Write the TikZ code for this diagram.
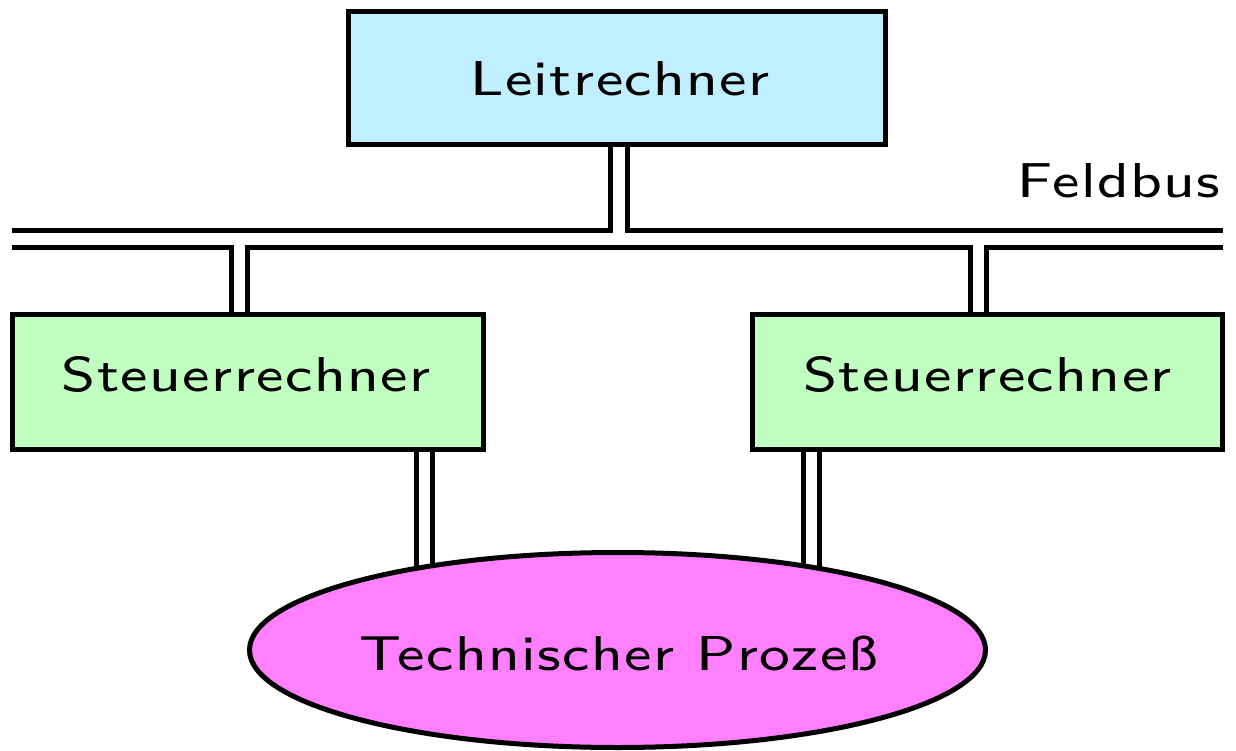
\documentclass[tikz,border=0pt]{standalone}
\usepackage{fontspec}
\setsansfont{lmsans8-regular.otf}[FakeStretch=1.18, LetterSpace=3]
\usetikzlibrary{shapes.geometric,backgrounds,calc}
\definecolor{leitcol}{RGB}{192,239,255}
\definecolor{steuercol}{RGB}{192,255,192}
\definecolor{proccol}{RGB}{255,128,255}
\begin{document}
\begin{tikzpicture}[x=1pt,y=-1pt,line width=5pt,
  every node/.style={font=\sffamily\fontsize{49}{58}\selectfont},
  rechner/.style={draw,rectangle,inner sep=0pt},
  busline/.style={draw,line width=5pt,line join=miter},
  lbl/.style={inner sep=0pt,anchor=base}]
\useasboundingbox (0,0) rectangle (1236,751);
\node[rechner,fill=leitcol,minimum width=537pt,minimum height=133pt] (L) at (617,78.5) {};
\node[lbl] (Ltext) at ($(L.center)+(3,17.5)$) {Leitrechner};
\node[rechner,fill=steuercol,minimum width=471pt,minimum height=135pt] (S1) at (247.5,382.2) {};
\node[lbl] (S1text) at ($(S1.center)+(-1.5,9.5)$) {Steuerrechner};
\node[rechner,fill=steuercol,minimum width=470pt,minimum height=135pt] (S2) at (987,382.2) {};
\node[lbl] (S2text) at ($(S2.center)+(0.5,9.5)$) {Steuerrechner};
\node[draw,ellipse,fill=proccol,inner sep=0pt,minimum width=736pt,minimum height=195pt] (P) at (617.5,650) {};
\node[lbl] (Ptext) at ($(P.center)+(1.5,20)$) {Technischer Proze\ss};
\node[lbl,anchor=base east] (F) at (1223,198) {Feldbus};
% bus ends and taps
\coordinate (bl1) at (12,231);
\coordinate (br1) at (1222.5,231);
\coordinate (bl2) at (12,247.3);
\coordinate (br2) at (1222.5,247.3);
\coordinate (la) at ($(L.south)+(-6.5,0)$);
\coordinate (lb) at ($(L.south)+(10,0)$);
\coordinate (s1a) at ($(S1.north)+(-16.5,0)$);
\coordinate (s1b) at ($(S1.north)+(-0.5,0)$);
\coordinate (s2a) at ($(S2.north)+(-17,0)$);
\coordinate (s2b) at ($(S2.north)+(-0.5,0)$);
\coordinate (s1c) at ($(S1.south)+(168.5,0)$);
\coordinate (s1d) at ($(S1.south)+(184.5,0)$);
\coordinate (s2c) at ($(S2.south)+(-184,0)$);
\coordinate (s2d) at ($(S2.south)+(-168,0)$);
\draw[busline] (la) |- (bl1);
\draw[busline] (lb) |- (br1);
\draw[busline] (bl2) -| (s1a);
\draw[busline] (s1b) |- (s2a |- bl2) -- (s2a);
\draw[busline] (br2) -| (s2b);
\begin{scope}[on background layer]
\draw[busline] (s1c) -- (s1c |- P.center);
\draw[busline] (s1d) -- (s1d |- P.center);
\draw[busline] (s2c) -- (s2c |- P.center);
\draw[busline] (s2d) -- (s2d |- P.center);
\end{scope}
\end{tikzpicture}
\end{document}
